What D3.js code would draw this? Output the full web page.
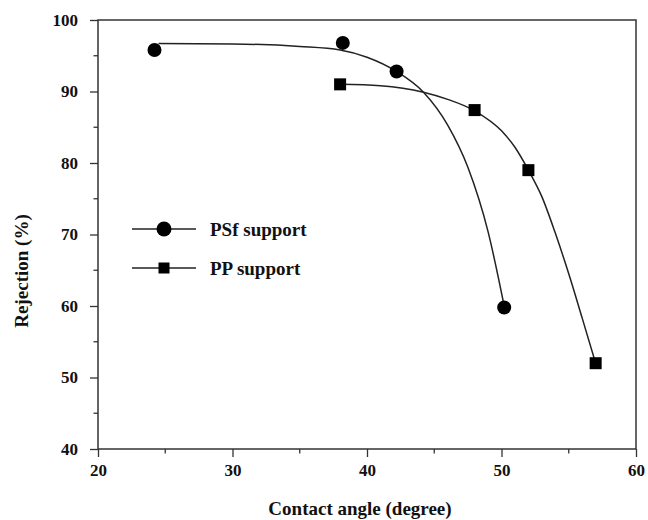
<!DOCTYPE html>
<html><head><meta charset="utf-8">
<script src="https://cdn.jsdelivr.net/npm/d3@7/dist/d3.min.js"></script>
<style>body{margin:0;background:#fff}svg{display:block}text{font-family:"Liberation Serif","Times New Roman",serif;font-weight:bold;fill:#111}</style>
</head><body>
<script>
// Measured data points
const psfX = [24.2, 38.2, 42.2, 50.2];
const psfY = [95.8, 96.8, 92.8, 59.8];
const ppX = [38.0, 48.0, 52.0, 57.0];
const ppY = [91.0, 87.4, 79.0, 52.0];
// Fitted curves
const psfFitX = [24.5, 30, 35, 38, 40, 42.2, 44.2, 46, 47.5, 49, 50.2];
const psfFitY = [96.7, 96.65, 96.3, 95.8, 94.8, 92.8, 89.9, 85.3, 79.4, 70.4, 60.0];
const ppFitX = [38.0, 41, 44.2, 46, 48.0, 50, 51, 52.0, 53, 54, 55, 56, 57.0];
const ppFitY = [91.0, 90.8, 89.9, 88.9, 87.3, 84.5, 82.2, 79.0, 75.3, 70.2, 64.5, 58.3, 52.0];
const xTicks = [20, 30, 40, 50, 60];
const yTicks = [40, 50, 60, 70, 80, 90, 100];
const seriesNames = ["PSf support", "PP support"];
const xTitle = "Contact angle (degree)";
const yTitle = "Rejection (%)";

const W = 648, H = 520;
const L = 98, R = 636, T = 20, B = 449;
const svg = d3.select("body").append("svg").attr("width", W).attr("height", H);
const x = d3.scaleLinear().domain([20, 60]).range([L, R]);
const y = d3.scaleLinear().domain([40, 100]).range([B, T]);
const ax = "#333";

// minor ticks
const xMinor = d3.range(25, 60, 10), yMinor = d3.range(45, 100, 10);
svg.selectAll(".xm").data(xMinor).enter().append("line")
  .attr("x1", d => x(d)).attr("x2", d => x(d)).attr("y1", B).attr("y2", B + 4.5)
  .attr("stroke", ax).attr("stroke-width", 1.3);
svg.selectAll(".ym").data(yMinor).enter().append("line")
  .attr("y1", d => y(d)).attr("y2", d => y(d)).attr("x1", L).attr("x2", L - 4.5)
  .attr("stroke", ax).attr("stroke-width", 1.3);

const gx = svg.append("g").attr("transform", `translate(0,${B})`)
  .call(d3.axisBottom(x).tickValues(xTicks).tickSize(8).tickPadding(7).tickSizeOuter(0));
const gy = svg.append("g").attr("transform", `translate(${L},0)`)
  .call(d3.axisLeft(y).tickValues(yTicks).tickSize(8).tickPadding(12).tickSizeOuter(0));
[gx, gy].forEach(g => {
  g.select(".domain").remove();
  g.selectAll("line").attr("stroke", ax).attr("stroke-width", 1.3);
  g.selectAll("text").attr("font-size", 17).attr("font-family", "Liberation Serif").attr("font-weight", "bold").attr("fill", "#111");
});
// frame
svg.append("rect").attr("x", L).attr("y", T).attr("width", R - L).attr("height", B - T)
  .attr("fill", "none").attr("stroke", ax).attr("stroke-width", 1.5);

// titles
svg.append("text").attr("x", 360).attr("y", 515).attr("text-anchor", "middle")
  .attr("font-size", 19).text(xTitle);
svg.append("text").attr("transform", "translate(28,271) rotate(-90)").attr("text-anchor", "middle")
  .attr("font-size", 19).text(yTitle);

// curves
const line = d3.line().x(d => x(d[0])).y(d => y(d[1])).curve(d3.curveMonotoneX);
const psfFit = psfFitX.map((v, i) => [v, psfFitY[i]]);
const ppFit = ppFitX.map((v, i) => [v, ppFitY[i]]);
svg.append("path").attr("d", line(psfFit)).attr("fill", "none").attr("stroke", "#222").attr("stroke-width", 1.5);
svg.append("path").attr("d", line(ppFit)).attr("fill", "none").attr("stroke", "#222").attr("stroke-width", 1.5);

// markers
svg.selectAll(".c").data(psfX.map((v, i) => [v, psfY[i]])).enter().append("circle")
  .attr("cx", d => x(d[0])).attr("cy", d => y(d[1])).attr("r", 7).attr("fill", "#000");
const s = 12;
svg.selectAll(".s").data(ppX.map((v, i) => [v, ppY[i]])).enter().append("rect")
  .attr("x", d => x(d[0]) - s / 2).attr("y", d => y(d[1]) - s / 2).attr("width", s).attr("height", s).attr("fill", "#000");

// legend
const lg = svg.append("g");
[229, 268].forEach((ly, i) => {
  lg.append("line").attr("x1", 132).attr("x2", 196).attr("y1", ly).attr("y2", ly).attr("stroke", "#222").attr("stroke-width", 1.5);
  if (i === 0) lg.append("circle").attr("cx", 164).attr("cy", ly).attr("r", 7.5).attr("fill", "#000");
  else lg.append("rect").attr("x", 164 - 5.5).attr("y", ly - 5.5).attr("width", 11).attr("height", 11).attr("fill", "#000");
  lg.append("text").attr("x", 210).attr("y", ly + 7).attr("font-size", 19).text(seriesNames[i]);
});
</script>
</body></html>
